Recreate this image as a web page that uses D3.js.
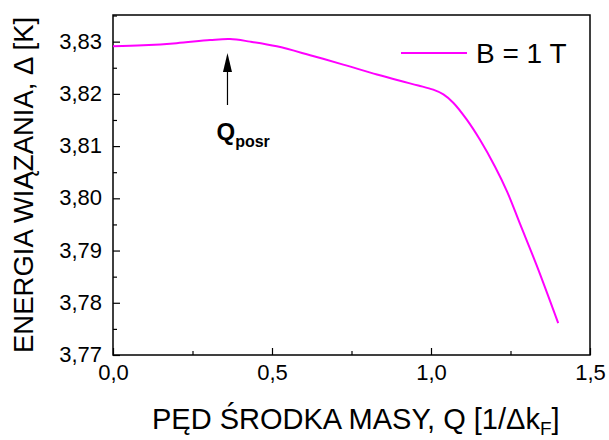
<!DOCTYPE html>
<html>
<head>
<meta charset="utf-8">
<script src="https://cdn.jsdelivr.net/npm/d3@7"></script>
<style>
  body { margin: 0; background: #fff; }
  svg text { font-family: Arial, "Liberation Sans", sans-serif; fill: #000; }
</style>
</head>
<body>
<div id="chart"></div>
<script>
// data
var qValues = [0.0, 0.095, 0.2, 0.305, 0.368, 0.431, 0.515, 0.62, 0.724, 0.83, 0.9025, 0.96, 1.007, 1.039, 1.07, 1.112, 1.154, 1.201, 1.24, 1.28, 1.332, 1.40];
var deltaValues = [3.8291, 3.8293, 3.8297, 3.8303, 3.8305, 3.8300, 3.8291, 3.8274, 3.8256, 3.8237, 3.8225, 3.8216, 3.8208, 3.8199, 3.8183, 3.8151, 3.8112, 3.8061, 3.8012, 3.7951, 3.7872, 3.7761];
var xTicks = [0, 0.5, 1.0, 1.5];
var yTicks = [3.77, 3.78, 3.79, 3.80, 3.81, 3.82, 3.83];
var seriesName = "B = 1 T";

var svgWidth = 609;
var svgHeight = 440;

var margin = { top: 15, right: 19, bottom: 85, left: 113 };
var width = svgWidth - margin.left - margin.right;
var height = svgHeight - margin.top - margin.bottom;

var svg = d3.select("#chart")
    .append("svg")
    .attr("width", svgWidth)
    .attr("height", svgHeight);

var chartGroup = svg.append("g")
    .attr("transform", `translate(${margin.left}, ${margin.top})`);

var xScale = d3.scaleLinear().domain([0, 1.5]).range([0, width]);
var yScale = d3.scaleLinear().domain([3.77, 3.8351]).range([height, 0]);

// minor ticks
var xMinor = d3.range(0.25, 1.5, 0.5);
var yMinor = d3.range(3.775, 3.835, 0.01);

chartGroup.append("g")
    .attr("transform", `translate(0, ${height})`)
    .call(d3.axisBottom(xScale).tickValues(xMinor).tickSize(-4).tickFormat(""))
    .call(g => g.select(".domain").remove());
chartGroup.append("g")
    .call(d3.axisLeft(yScale).tickValues(yMinor).tickSize(-4).tickFormat(""))
    .call(g => g.select(".domain").remove());

var xAxis = chartGroup.append("g")
    .attr("transform", `translate(0, ${height})`)
    .call(d3.axisBottom(xScale).tickValues(xTicks).tickSize(-7).tickPadding(9)
        .tickFormat(d => d3.format(".1f")(d).replace(".", ",")));
xAxis.select(".domain").remove();
xAxis.selectAll("text").attr("font-size", 22).attr("dy", "0.71em");

var yAxis = chartGroup.append("g")
    .call(d3.axisLeft(yScale).tickValues(yTicks).tickSize(-7).tickPadding(11)
        .tickFormat(d => d3.format(".2f")(d).replace(".", ",")));
yAxis.select(".domain").remove();
yAxis.selectAll("text").attr("font-size", 22).attr("dy", "0.3em");

chartGroup.selectAll(".tick line").attr("stroke", "#000").attr("stroke-width", 1.2);

// frame
chartGroup.append("rect")
    .attr("width", width)
    .attr("height", height)
    .attr("fill", "none")
    .attr("stroke", "#000")
    .attr("stroke-width", 1.5);

// curve
var pts = qValues.map((q, i) => [q, deltaValues[i]]);
var line = d3.line()
    .x(d => xScale(d[0]))
    .y(d => yScale(d[1]))
    .curve(d3.curveCatmullRom.alpha(0.5));

chartGroup.append("path")
    .datum(pts)
    .attr("d", line)
    .attr("fill", "none")
    .attr("stroke", "#ff00ff")
    .attr("stroke-width", 2);

// legend
chartGroup.append("line")
    .attr("x1", 288).attr("x2", 354)
    .attr("y1", 38).attr("y2", 38)
    .attr("stroke", "#ff00ff")
    .attr("stroke-width", 2);
chartGroup.append("text")
    .attr("x", 363)
    .attr("y", 48)
    .attr("font-size", 28)
    .text(seriesName);

// arrow to Q_posr
var ax = xScale(0.36);
chartGroup.append("line")
    .attr("x1", ax).attr("x2", ax)
    .attr("y1", 90).attr("y2", 50)
    .attr("stroke", "#000")
    .attr("stroke-width", 1.2);
chartGroup.append("path")
    .attr("d", `M${ax},38 L${ax - 4.5},57 L${ax + 4.5},57 Z`)
    .attr("fill", "#000");

var qLabel = chartGroup.append("text")
    .attr("x", ax - 11)
    .attr("y", 125)
    .attr("font-size", 24)
    .attr("font-weight", "bold");
qLabel.append("tspan").text("Q");
qLabel.append("tspan").attr("font-size", 16).attr("dy", 7).text("posr");

// axis titles
var xTitle = svg.append("text")
    .attr("x", 152)
    .attr("y", 429)
    .attr("font-size", 29);
xTitle.append("tspan").text("PĘD ŚRODKA MASY, Q [1/Δk");
xTitle.append("tspan").attr("font-size", 19).attr("dy", 6).text("F");
xTitle.append("tspan").attr("dy", -6).text("]");

svg.append("text")
    .attr("transform", "translate(33, 353) rotate(-90)")
    .attr("font-size", 27.5)
    .text("ENERGIA WIĄZANIA, Δ [K]");
</script>
</body>
</html>
